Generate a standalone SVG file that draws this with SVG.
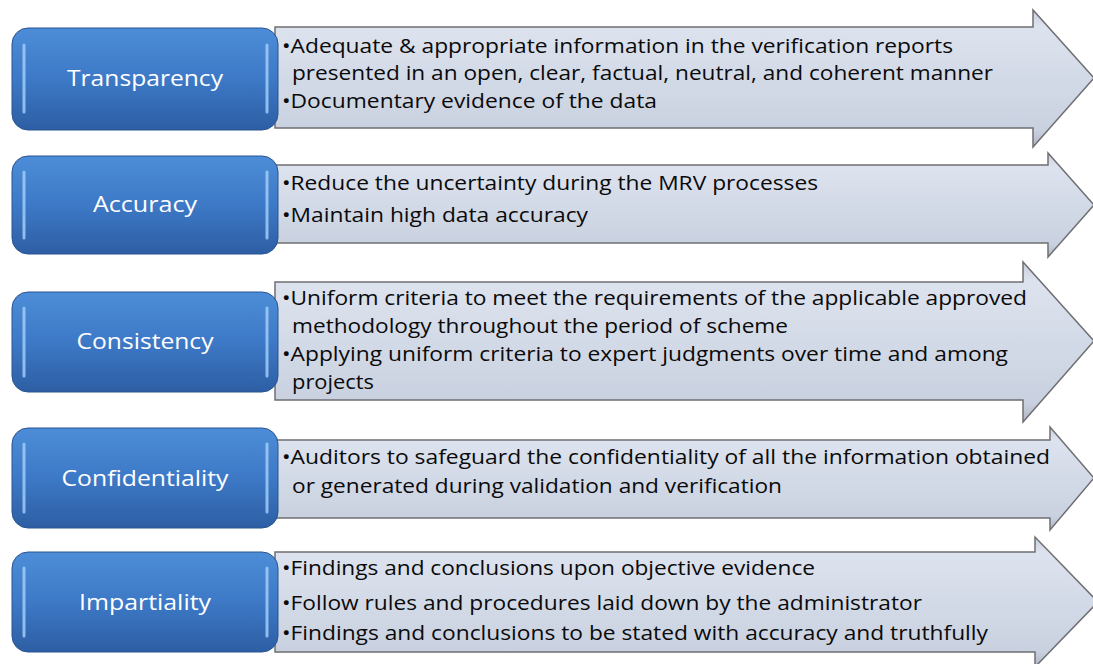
<svg xmlns="http://www.w3.org/2000/svg" width="1093" height="664" viewBox="0 0 1093 664">
<style>
.arrow{fill:url(#ag);stroke:#6f6f73;stroke-width:1.5}
.box{fill:url(#bg);stroke:#2a5590;stroke-width:1}
.hl{fill:none;stroke:#9fcdf8;stroke-width:3;stroke-linecap:round;opacity:0.85}
.lbl{font-family:"Open Sans","Noto Sans",sans-serif;font-size:22px;fill:#ffffff;text-anchor:middle}
.t{font-family:"Open Sans","Noto Sans",sans-serif;font-size:20px;fill:#0a0a0a}
</style>
<defs>
<linearGradient id="ag" x1="0" y1="0" x2="0" y2="1">
<stop offset="0" stop-color="#c7cfdc"/>
<stop offset="0.12" stop-color="#dde3ee"/>
<stop offset="0.5" stop-color="#d3dae7"/>
<stop offset="0.88" stop-color="#c9d1e0"/>
<stop offset="1" stop-color="#aeb6c4"/>
</linearGradient>
<linearGradient id="bg" x1="0" y1="0" x2="0" y2="1">
<stop offset="0" stop-color="#4d8dd8"/>
<stop offset="0.5" stop-color="#3d79c6"/>
<stop offset="1" stop-color="#2d5ea4"/>
</linearGradient>
</defs>
<g id="connectors">
<path class="arrow" d="M275,27 H1033 V10 L1094,78 L1033,147 V128 H275 Z"/>
<path class="arrow" d="M275,165 H1048 V153 L1094,205 L1048,257 V243 H275 Z"/>
<path class="arrow" d="M275,282 H1023 V262 L1094,341 L1023,422 V400 H275 Z"/>
<path class="arrow" d="M275,440 H1050 V427 L1094,478 L1050,530 V518 H275 Z"/>
<path class="arrow" d="M275,552 H1035 V537 L1098,602 L1035,667 V652 H275 Z"/>
</g>
<g id="transparency">
<rect class="box" x="12" y="28" width="266" height="102" rx="16"/>
<path class="hl" d="M24,45 V112 M267,45 V112"/>
<text class="lbl" x="145" y="86" textLength="156" lengthAdjust="spacingAndGlyphs">Transparency</text>
<text class="t" x="282" y="53" textLength="671" lengthAdjust="spacingAndGlyphs">•Adequate &amp; appropriate information in the verification reports</text>
<text class="t" x="292" y="80" textLength="701" lengthAdjust="spacingAndGlyphs">presented in an open, clear, factual, neutral, and coherent manner</text>
<text class="t" x="282" y="108" textLength="375" lengthAdjust="spacingAndGlyphs">•Documentary evidence of the data</text>
</g>
<g id="accuracy">
<rect class="box" x="12" y="156" width="266" height="98" rx="16"/>
<path class="hl" d="M24,172 V238 M267,172 V238"/>
<text class="lbl" x="145" y="212" textLength="104" lengthAdjust="spacingAndGlyphs">Accuracy</text>
<text class="t" x="282" y="190" textLength="536" lengthAdjust="spacingAndGlyphs">•Reduce the uncertainty during the MRV processes</text>
<text class="t" x="282" y="222" textLength="306" lengthAdjust="spacingAndGlyphs">•Maintain high data accuracy</text>
</g>
<g id="consistency">
<rect class="box" x="12" y="292" width="266" height="100" rx="16"/>
<path class="hl" d="M24,308 V376 M267,308 V376"/>
<text class="lbl" x="145" y="349" textLength="137" lengthAdjust="spacingAndGlyphs">Consistency</text>
<text class="t" x="282" y="305" textLength="745" lengthAdjust="spacingAndGlyphs">•Uniform criteria to meet the requirements of the applicable approved</text>
<text class="t" x="292" y="333" textLength="496" lengthAdjust="spacingAndGlyphs">methodology throughout the period of scheme</text>
<text class="t" x="282" y="361" textLength="726" lengthAdjust="spacingAndGlyphs">•Applying uniform criteria to expert judgments over time and among</text>
<text class="t" x="292" y="389" textLength="82" lengthAdjust="spacingAndGlyphs">projects</text>
</g>
<g id="confidentiality">
<rect class="box" x="12" y="428" width="266" height="100" rx="16"/>
<path class="hl" d="M24,444 V512 M267,444 V512"/>
<text class="lbl" x="145" y="486" textLength="167" lengthAdjust="spacingAndGlyphs">Confidentiality</text>
<text class="t" x="282" y="464" textLength="768" lengthAdjust="spacingAndGlyphs">•Auditors to safeguard the confidentiality of all the information obtained</text>
<text class="t" x="292" y="493" textLength="490" lengthAdjust="spacingAndGlyphs">or generated during validation and verification</text>
</g>
<g id="impartiality">
<rect class="box" x="12" y="552" width="266" height="100" rx="16"/>
<path class="hl" d="M24,568 V636 M267,568 V636"/>
<text class="lbl" x="145" y="610" textLength="132" lengthAdjust="spacingAndGlyphs">Impartiality</text>
<text class="t" x="282" y="575" textLength="533" lengthAdjust="spacingAndGlyphs">•Findings and conclusions upon objective evidence</text>
<text class="t" x="282" y="610" textLength="640" lengthAdjust="spacingAndGlyphs">•Follow rules and procedures laid down by the administrator</text>
<text class="t" x="282" y="640" textLength="706" lengthAdjust="spacingAndGlyphs">•Findings and conclusions to be stated with accuracy and truthfully</text>
</g>
</svg>
